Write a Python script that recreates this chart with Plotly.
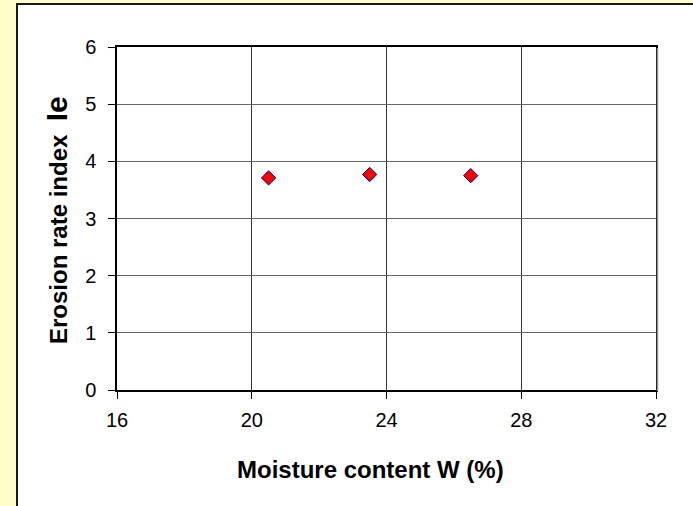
import plotly.graph_objects as go

moisture = [20.5, 23.5, 26.5]
erosion_index = [3.71, 3.77, 3.75]
x_ticks = [16, 20, 24, 28, 32]
y_ticks = [0, 1, 2, 3, 4, 5, 6]

W, H = 693, 506
L, R, T, B = 117, 37, 47, 116
pw, ph = W - L - R, H - T - B

def px(x):
    return (x - L) / pw

def py(y):
    return (H - B - y) / ph

fig = go.Figure()
fig.add_trace(go.Scatter(
    x=moisture, y=erosion_index, mode="markers",
    marker=dict(symbol="diamond", size=11, color="#FF0000",
                line=dict(color="#000080", width=1)),
    showlegend=False,
))

font = "Liberation Sans, Arial, sans-serif"
fig.update_layout(
    width=W, height=H,
    margin=dict(l=L, r=R, t=T, b=B),
    paper_bgcolor="#FFFFCC",
    plot_bgcolor="white",
    font=dict(family=font, color="black", size=20),
    shapes=[
        dict(type="rect", xref="paper", yref="paper", layer="below",
             x0=px(17), x1=px(W + 10), y0=py(H + 10), y1=py(4),
             fillcolor="white", line=dict(color="#1a1a1a", width=2)),
        dict(type="line", xref="paper", yref="paper", layer="above",
             x0=px(657.5), x1=px(657.5), y0=py(391), y1=py(48),
             line=dict(color="#999999", width=1.5)),
    ],
    annotations=[
        dict(text="<b>Moisture content W (%)</b>", xref="paper", yref="paper",
             x=px(370), y=py(470), xanchor="center", yanchor="middle",
             showarrow=False, font=dict(size=24)),
        dict(text="<b>Erosion rate index&nbsp;&nbsp;<span style='font-size:30px'>Ie</span></b>",
             xref="paper", yref="paper", textangle=-90,
             x=px(57), y=py(220), xanchor="center", yanchor="middle",
             showarrow=False, font=dict(size=24)),
    ],
    xaxis=dict(
        range=[16, 32], tickvals=x_ticks, ticks="outside", ticklen=7,
        tickcolor="black", showgrid=True, gridcolor="#333333", gridwidth=1,
        showline=True, linecolor="black", linewidth=1.5, mirror=True,
        zeroline=False, tickfont=dict(size=20), ticklabelstandoff=4,
    ),
    yaxis=dict(
        range=[0, 6], tickvals=y_ticks, ticks="outside", ticklen=7,
        tickcolor="black", showgrid=True, gridcolor="#666666", gridwidth=1,
        showline=True, linecolor="black", linewidth=1.5, mirror=True,
        zeroline=False, tickfont=dict(size=20), ticklabelstandoff=8,
    ),
)

fig.write_html("out.html")
